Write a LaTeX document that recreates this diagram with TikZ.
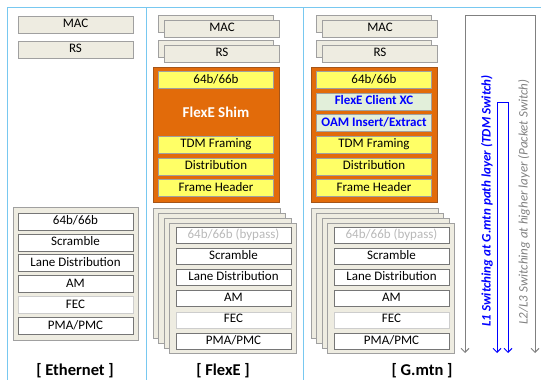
\documentclass[tikz,border=0pt]{standalone}
\usepackage{fontspec}
\setmainfont{Carlito}
\usetikzlibrary{arrows.meta}

\definecolor{framecol}{RGB}{120,200,240}
\definecolor{beige}{RGB}{238,236,225}
\definecolor{edgegray}{RGB}{160,160,160}
\definecolor{rowedge}{RGB}{118,118,118}
\definecolor{fecedge}{RGB}{205,205,205}
\definecolor{bypassgray}{RGB}{185,185,185}
\definecolor{shimorange}{RGB}{226,107,10}
\definecolor{shimedge}{RGB}{165,85,25}
\definecolor{shimyellow}{RGB}{255,255,102}
\definecolor{xcgreen}{RGB}{226,239,218}
\definecolor{pathblue}{RGB}{0,0,255}
\definecolor{pathgray}{RGB}{128,128,128}

\tikzset{
  txt/.style={font=\fontsize{13}{13}\selectfont, text height=9pt, text depth=3pt, inner sep=0pt},
  layer/.style={txt, draw=edgegray, fill=beige, line width=0.8pt, minimum width=115pt, minimum height=17pt},
  stackbox/.style={draw=edgegray, fill=beige, line width=0.8pt, minimum width=127pt, minimum height=130pt, inner sep=0pt},
  pcsrow/.style={txt, draw=rowedge, fill=white, line width=0.8pt, minimum width=115pt, minimum height=16pt},
  fecrow/.style={pcsrow, draw=fecedge},
  bypassrow/.style={pcsrow, text=bypassgray},
  shim/.style={draw=shimedge, fill=shimorange, line width=0.8pt, minimum width=126pt, minimum height=135pt, inner sep=0pt},
  shimrow/.style={txt, draw=edgegray, fill=shimyellow, line width=0.8pt, minimum width=115pt, minimum height=17pt},
  xcrow/.style={shimrow, fill=xcgreen, text=pathblue, font=\fontsize{13}{13}\selectfont\bfseries},
  collabel/.style={font=\fontsize{16.5}{16.5}\selectfont\bfseries, inner sep=0pt},
  barb/.style={line width=1pt, {Straight Barb[length=4pt,width=8pt]}-{Straight Barb[length=4pt,width=8pt]}}
}

\begin{document}
\begin{tikzpicture}[x=1pt,y=-1pt]
\useasboundingbox (0,0) rectangle (541,380);

% Frame lines
\draw[framecol,line width=1pt] (7,380) -- (7,7) -- (541,7);
\draw[framecol,line width=1pt] (146,7) -- (146,380);
\draw[framecol,line width=1pt] (303,7) -- (303,380);

% Ethernet column
\node[layer] (eth-mac) at (75.5,24.5) {MAC};
\node[layer] (eth-rs) at (75.5,49.5) {RS};
\node[stackbox, minimum width=125pt, minimum height=133pt] (eth-pcs) at (75.5,273.5) {};
\foreach \txt/\sty [count=\i from 0] in {64b\slash 66b/pcsrow, Scramble/pcsrow, Lane Distribution/pcsrow, AM/pcsrow, FEC/fecrow, PMA\slash PMC/pcsrow}
    \node[\sty, minimum height=17pt] (eth-row\i) at (75.5,221.5+20.9*\i) {\txt};

% FlexE and G.mtn columns: MAC, RS and lane stacks
\foreach \col/\dx in {fx/0,gm/158} {
    \node[layer] (\col-mac-back) at (216+\dx,24) {};
    \node[layer] (\col-mac) at (222+\dx,28.5) {MAC};
    \node[layer] (\col-rs-back) at (216+\dx,49) {};
    \node[layer] (\col-rs) at (222+\dx,53.5) {RS};
    \foreach \k in {0,...,3}
        \node[stackbox] (\col-lane\k) at (216.5+5.5*\k+\dx,273+5*\k) {};
    \foreach \txt/\sty [count=\i from 0] in {64b\slash 66b (bypass)/bypassrow, Scramble/pcsrow, Lane Distribution/pcsrow, AM/pcsrow, FEC/fecrow, PMA\slash PMC/pcsrow}
        \node[\sty] (\col-row\i) at (233.5+\dx,235.5+21.1*\i) {\txt};
}

% FlexE Shim
\node[shim] (fx-shim) at (216,134.5) {};
\node[shimrow] (fx-enc) at (216,80) {64b/66b};
\node[font=\fontsize{15}{15}\selectfont\bfseries, text=white] (fx-shim-label) at (216,112) {FlexE Shim};
\node[shimrow] (fx-tdm) at (216,144.8) {TDM Framing};
\node[shimrow] (fx-dist) at (216,166.4) {Distribution};
\node[shimrow] (fx-hdr) at (216,188) {Frame Header};

% G.mtn Shim
\node[shim] (gm-shim) at (374,134.5) {};
\node[shimrow] (gm-enc) at (374,80) {64b/66b};
\node[xcrow] (gm-xc) at (374,101.6) {FlexE Client XC};
\node[xcrow] (gm-oam) at (374,123.2) {OAM Insert/Extract};
\node[shimrow] (gm-tdm) at (374,144.8) {TDM Framing};
\node[shimrow] (gm-dist) at (374,166.4) {Distribution};
\node[shimrow] (gm-hdr) at (374,188) {Frame Header};

% Column labels
\node[collabel] (eth-label) at (75,371) {[ Ethernet ]};
\node[collabel] (fx-label) at (223,371) {[ FlexE ]};
\node[collabel] (gm-label) at (422,371) {[ G.mtn ]};

% Switching paths
\coordinate (pkt-a) at (465,353);
\coordinate (pkt-b) at (465,15);
\coordinate (pkt-c) at (535,15);
\coordinate (pkt-d) at (535,353);
\draw[barb, pathgray] (pkt-a) -- (pkt-b) -- (pkt-c) -- (pkt-d);

\coordinate (tdm-a) at (497,353);
\coordinate (tdm-b) at (497,102);
\coordinate (tdm-c) at (508,102);
\coordinate (tdm-d) at (508,353);
\draw[barb, pathblue] (tdm-a) -- (tdm-b) -- (tdm-c) -- (tdm-d);

\node[rotate=90, text=pathblue, font=\fontsize{13}{13}\selectfont\bfseries\itshape] (tdm-label) at (487,201) {L1 Switching at G.mtn path layer (TDM Switch)};
\node[rotate=90, text=pathgray, font=\fontsize{13}{13}\selectfont\itshape] (pkt-label) at (524,202) {L2/L3 Switching at higher layer (Packet Switch)};

\end{tikzpicture}
\end{document}
